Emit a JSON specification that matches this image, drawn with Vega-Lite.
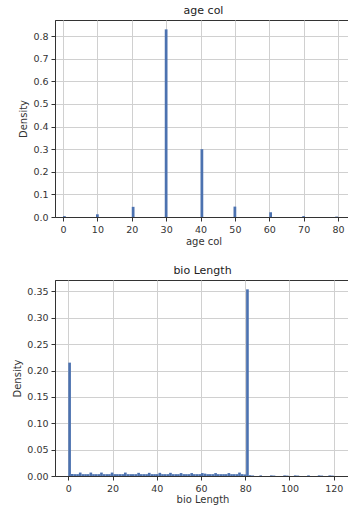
{
  "$schema": "https://vega.github.io/schema/vega-lite/v6.json",
  "padding": {"left": 12, "top": 4, "right": 0, "bottom": 0},
  "config": {
    "font": "DejaVu Sans",
    "view": {"stroke": "#333333", "strokeWidth": 1},
    "axis": {
      "labelFont": "DejaVu Sans", "labelFontSize": 9.5, "labelColor": "#333333",
      "titleFont": "DejaVu Sans", "titleFontSize": 10, "titleFontWeight": "normal", "titleColor": "#333333",
      "tickColor": "#333333", "domainColor": "#333333", "gridColor": "#d0d0d0", "tickSize": 4,
      "labelFlush": false, "labelOverlap": false
    },
    "title": {"font": "DejaVu Sans", "fontSize": 11, "fontWeight": "normal", "color": "#222222", "offset": 4}
  },
  "datasets": {
    "age": [
      {"start": 0, "end": 0.8, "density": 0.004},
      {"start": 9.6, "end": 10.4, "density": 0.012},
      {"start": 20, "end": 20.8, "density": 0.045},
      {"start": 29.6, "end": 30.4, "density": 0.83},
      {"start": 40, "end": 40.8, "density": 0.30},
      {"start": 49.6, "end": 50.4, "density": 0.046},
      {"start": 60, "end": 60.8, "density": 0.021},
      {"start": 69.6, "end": 70.4, "density": 0.004},
      {"start": 79.2, "end": 80, "density": 0.002}
    ],
    "bio": [
      {"start": 0, "end": 1.2, "density": 0.215},
      {"start": 1.2, "end": 2.4, "density": 0.004},
      {"start": 2.4, "end": 3.6, "density": 0.0035},
      {"start": 3.6, "end": 4.8, "density": 0.0035},
      {"start": 4.8, "end": 6.0, "density": 0.0065},
      {"start": 6.0, "end": 7.2, "density": 0.0035},
      {"start": 7.2, "end": 8.4, "density": 0.0035},
      {"start": 8.4, "end": 9.6, "density": 0.0035},
      {"start": 9.6, "end": 10.8, "density": 0.0065},
      {"start": 10.8, "end": 12.0, "density": 0.0035},
      {"start": 12.0, "end": 13.2, "density": 0.0035},
      {"start": 13.2, "end": 14.4, "density": 0.0035},
      {"start": 14.4, "end": 15.6, "density": 0.0065},
      {"start": 15.6, "end": 16.8, "density": 0.0035},
      {"start": 16.8, "end": 18.0, "density": 0.0035},
      {"start": 18.0, "end": 19.2, "density": 0.0035},
      {"start": 19.2, "end": 20.4, "density": 0.0065},
      {"start": 20.4, "end": 21.6, "density": 0.0035},
      {"start": 21.6, "end": 22.8, "density": 0.0035},
      {"start": 22.8, "end": 24.0, "density": 0.0035},
      {"start": 24.0, "end": 25.2, "density": 0.0035},
      {"start": 25.2, "end": 26.4, "density": 0.0065},
      {"start": 26.4, "end": 27.6, "density": 0.0035},
      {"start": 27.6, "end": 28.8, "density": 0.0035},
      {"start": 28.8, "end": 30.0, "density": 0.0035},
      {"start": 30.0, "end": 31.2, "density": 0.0035},
      {"start": 31.2, "end": 32.4, "density": 0.006},
      {"start": 32.4, "end": 33.6, "density": 0.0035},
      {"start": 33.6, "end": 34.8, "density": 0.0035},
      {"start": 34.8, "end": 36.0, "density": 0.0035},
      {"start": 36.0, "end": 37.2, "density": 0.006},
      {"start": 37.2, "end": 38.4, "density": 0.0035},
      {"start": 38.4, "end": 39.6, "density": 0.0035},
      {"start": 39.6, "end": 40.8, "density": 0.0035},
      {"start": 40.8, "end": 42.0, "density": 0.006},
      {"start": 42.0, "end": 43.2, "density": 0.0035},
      {"start": 43.2, "end": 44.4, "density": 0.0035},
      {"start": 44.4, "end": 45.6, "density": 0.0035},
      {"start": 45.6, "end": 46.8, "density": 0.006},
      {"start": 46.8, "end": 48.0, "density": 0.0035},
      {"start": 48.0, "end": 49.2, "density": 0.0035},
      {"start": 49.2, "end": 50.4, "density": 0.0035},
      {"start": 50.4, "end": 51.6, "density": 0.0055},
      {"start": 51.6, "end": 52.8, "density": 0.0035},
      {"start": 52.8, "end": 54.0, "density": 0.0035},
      {"start": 54.0, "end": 55.2, "density": 0.0035},
      {"start": 55.2, "end": 56.4, "density": 0.0055},
      {"start": 56.4, "end": 57.6, "density": 0.0035},
      {"start": 57.6, "end": 58.8, "density": 0.0035},
      {"start": 58.8, "end": 60.0, "density": 0.0035},
      {"start": 60.0, "end": 61.2, "density": 0.0055},
      {"start": 61.2, "end": 62.4, "density": 0.0045},
      {"start": 62.4, "end": 63.6, "density": 0.0035},
      {"start": 63.6, "end": 64.8, "density": 0.0035},
      {"start": 64.8, "end": 66.0, "density": 0.0035},
      {"start": 66.0, "end": 67.2, "density": 0.0055},
      {"start": 67.2, "end": 68.4, "density": 0.0035},
      {"start": 68.4, "end": 69.6, "density": 0.0035},
      {"start": 69.6, "end": 70.8, "density": 0.0035},
      {"start": 70.8, "end": 72.0, "density": 0.0035},
      {"start": 72.0, "end": 73.2, "density": 0.0055},
      {"start": 73.2, "end": 74.4, "density": 0.0035},
      {"start": 74.4, "end": 75.6, "density": 0.0035},
      {"start": 75.6, "end": 76.8, "density": 0.0035},
      {"start": 76.8, "end": 78.0, "density": 0.0065},
      {"start": 78.0, "end": 79.2, "density": 0.0035},
      {"start": 79.2, "end": 80.4, "density": 0.003},
      {"start": 80.4, "end": 81.6, "density": 0.354},
      {"start": 81.6, "end": 82.8, "density": 0.0015},
      {"start": 82.8, "end": 84.0, "density": 0.001},
      {"start": 86.4, "end": 87.6, "density": 0.0012},
      {"start": 91.2, "end": 92.4, "density": 0.0012},
      {"start": 92.4, "end": 93.6, "density": 0.0008},
      {"start": 97.2, "end": 98.4, "density": 0.0012},
      {"start": 98.4, "end": 99.6, "density": 0.0008},
      {"start": 102.0, "end": 103.2, "density": 0.0012},
      {"start": 103.2, "end": 104.4, "density": 0.0008},
      {"start": 108.0, "end": 109.2, "density": 0.0012},
      {"start": 112.8, "end": 114.0, "density": 0.0012},
      {"start": 114.0, "end": 115.2, "density": 0.0008},
      {"start": 117.6, "end": 118.8, "density": 0.0012},
      {"start": 118.8, "end": 120.0, "density": 0.0008}
    ]
  },
  "spacing": 17,
  "vconcat": [
    {
      "width": 297,
      "height": 197,
      "title": "age col",
      "data": {"name": "age"},
      "mark": {"type": "bar", "color": "#4C72B0"},
      "encoding": {
        "x": {
          "field": "start", "type": "quantitative",
          "scale": {"domain": [-2.33, 84.07], "nice": false, "zero": false},
          "axis": {"title": "age col", "values": [0, 10, 20, 30, 40, 50, 60, 70, 80], "titlePadding": 3, "labelPadding": 3}
        },
        "x2": {"field": "end"},
        "y": {
          "field": "density", "type": "quantitative",
          "scale": {"domain": [0, 0.8715], "nice": false},
          "axis": {"title": "Density", "values": [0, 0.1, 0.2, 0.3, 0.4, 0.5, 0.6, 0.7, 0.8], "format": ".1f", "titlePadding": 4, "labelPadding": 3}
        },
        "y2": {"datum": 0}
      }
    },
    {
      "width": 295,
      "height": 196,
      "title": "bio Length",
      "data": {"name": "bio"},
      "mark": {"type": "bar", "color": "#4C72B0"},
      "encoding": {
        "x": {
          "field": "start", "type": "quantitative",
          "scale": {"domain": [-6, 127.36], "nice": false, "zero": false},
          "axis": {"title": "bio Length", "values": [0, 20, 40, 60, 80, 100, 120], "titlePadding": 2, "labelPadding": 3}
        },
        "x2": {"field": "end"},
        "y": {
          "field": "density", "type": "quantitative",
          "scale": {"domain": [0, 0.3717], "nice": false},
          "axis": {"title": "Density", "values": [0, 0.05, 0.1, 0.15, 0.2, 0.25, 0.3, 0.35], "format": ".2f", "titlePadding": 4, "labelPadding": 3}
        },
        "y2": {"datum": 0}
      }
    }
  ]
}
